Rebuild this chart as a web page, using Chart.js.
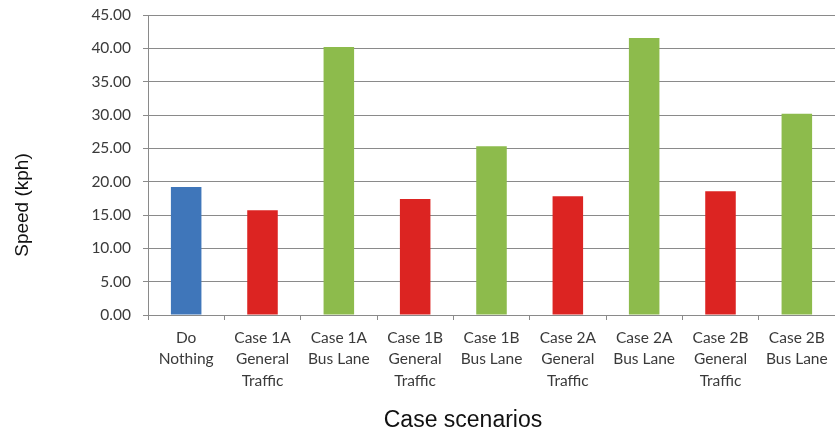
<!DOCTYPE html>
<html>
<head>
<meta charset="utf-8">
<script src="https://cdn.jsdelivr.net/npm/chart.js@4"></script>
<style>
html,body{margin:0;padding:0;background:#fff;}
#wrap{width:835px;height:432px;position:relative;}
</style>
</head>
<body>
<div id="wrap"><canvas id="c" width="835" height="432"></canvas></div>
<script>
const categories = [
  ["Do", "Nothing"],
  ["Case 1A", "General", "Traffic"],
  ["Case 1A", "Bus Lane"],
  ["Case 1B", "General", "Traffic"],
  ["Case 1B", "Bus Lane"],
  ["Case 2A", "General", "Traffic"],
  ["Case 2A", "Bus Lane"],
  ["Case 2B", "General", "Traffic"],
  ["Case 2B", "Bus Lane"]
];
const speeds = [19.2, 15.7, 40.2, 17.4, 25.3, 17.8, 41.55, 18.55, 30.2];
const barColors = ["#3F76BA", "#DC2422", "#8DBB4C", "#DC2422", "#8DBB4C", "#DC2422", "#8DBB4C", "#DC2422", "#8DBB4C"];
const yTitle = "Speed (kph)";
const xTitle = "Case scenarios";

const titlesPlugin = {
  id: 'titles',
  afterDraw(chart) {
    const ctx = chart.ctx;
    ctx.save();
    ctx.fillStyle = '#111';
    ctx.textAlign = 'center';
    ctx.font = '23px "Liberation Sans", Arial, sans-serif';
    ctx.textBaseline = 'alphabetic';
    ctx.fillText(xTitle, 463, 427);
    ctx.font = '19px "Liberation Sans", Arial, sans-serif';
    ctx.textBaseline = 'middle';
    ctx.translate(23, 205);
    ctx.rotate(-Math.PI / 2);
    ctx.fillText(yTitle, 0, 0);
    ctx.restore();
  }
};

new Chart(document.getElementById('c'), {
  type: 'bar',
  data: {
    labels: categories,
    datasets: [{
      data: speeds,
      backgroundColor: barColors,
      borderWidth: 0,
      categoryPercentage: 1.0,
      barPercentage: 0.4
    }]
  },
  options: {
    responsive: false,
    animation: false,
    layout: { padding: { left: 0, top: 15, right: 0, bottom: 0 } },
    plugins: { legend: { display: false }, tooltip: { enabled: false } },
    scales: {
      x: {
        grid: { drawOnChartArea: false, drawTicks: true, tickLength: 5, color: '#8a8a8a', offset: true },
        border: { color: '#8a8a8a', width: 1 },
        ticks: {
          color: '#3a3a3a',
          font: { family: 'Lato, "Open Sans", sans-serif', size: 15.5, lineHeight: 1.39 },
          maxRotation: 0, autoSkip: false, padding: 7
        },
        afterFit(scale) { scale.height = 117; scale.paddingLeft = 0; scale.paddingRight = 0; }
      },
      y: {
        min: 0, max: 45,
        ticks: {
          stepSize: 5,
          color: '#3a3a3a',
          font: { family: 'Lato, "Open Sans", sans-serif', size: 15.5 },
          padding: 12,
          callback: v => Number(v).toFixed(2)
        },
        grid: { color: '#8a8a8a', lineWidth: 1, tickLength: 5 },
        border: { color: '#8a8a8a', width: 1 },
        afterFit(scale) { scale.width = 148; scale.paddingTop = 0; scale.paddingBottom = 0; }
      }
    }
  },
  plugins: [titlesPlugin]
});
</script>
</body>
</html>
